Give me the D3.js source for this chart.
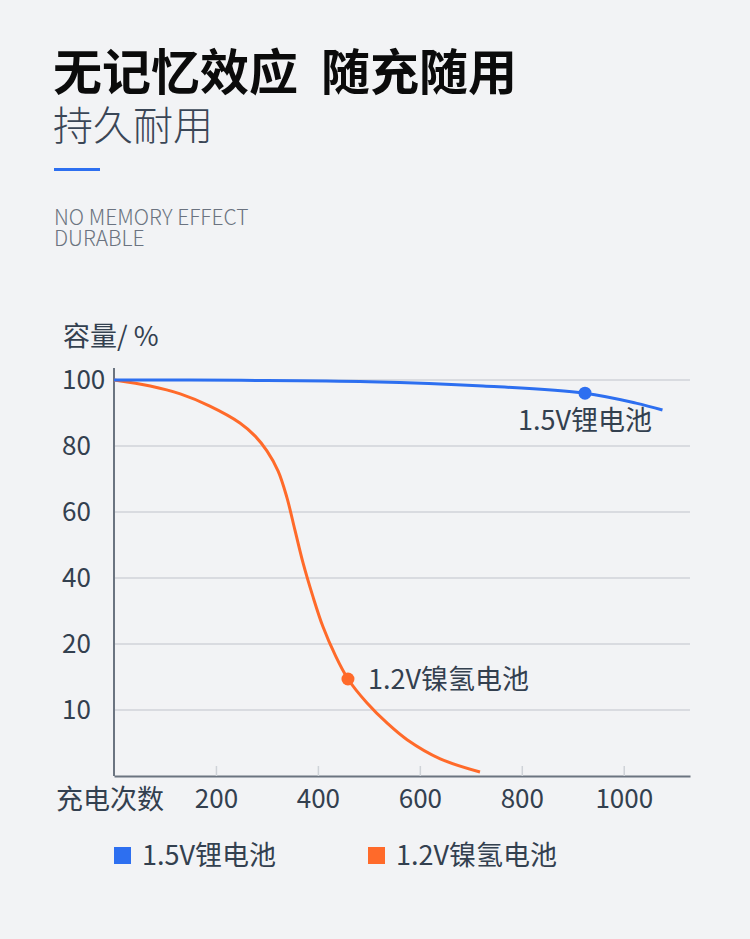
<!DOCTYPE html>
<html lang="zh-CN">
<head>
<meta charset="utf-8">
<title>无记忆效应 随充随用</title>
<script src="https://d3js.org/d3.v7.min.js"></script>
<style>
  html, body { margin: 0; padding: 0; background: #f2f3f5; }
  svg { display: block; font-family: "Noto Sans CJK SC", "Noto Sans", sans-serif; }
  .tick text { fill: #33404f; }
</style>
</head>
<body>
<svg id="chart"></svg>
<script>
// data
var xTicks = [200, 400, 600, 800, 1000];
var yTicks = [100, 80, 60, 40, 20, 10];

// 1.5V lithium
var liCycles   = [0, 250, 500, 724, 924, 1024, 1076];
var liCapacity = [100, 99.9, 99.5, 98.2, 96, 93, 90.9];
var liMark = [924, 96];

// 1.2V NiMH
var nimhCycles   = [0, 71, 130, 188, 247, 277, 300, 322, 339, 355, 371, 390, 410, 434, 459, 496, 536, 575, 640, 718];
var nimhCapacity = [100, 98.2, 95.8, 92.1, 87.0, 83.0, 78.5, 72.4, 64.5, 54.5, 44.5, 34.5, 25.2, 18.3, 14.7, 11.1, 8.0, 5.5, 2.6, 0.6];
var nimhMark = [459, 14.7];

var seriesNames = ["1.5V锂电池", "1.2V镍氢电池"];
var colors = ["#2d6ff0", "#ff6a2a"];

var width = 750, height = 939;
var textColor = "#33404f";

var svg = d3.select("#chart")
    .attr("width", width)
    .attr("height", height);

svg.append("rect").attr("width", width).attr("height", height).attr("fill", "#f2f3f5");

// header
svg.append("text")
    .attr("x", 53).attr("y", 90)
    .attr("font-size", 49).attr("font-weight", 700)
    .attr("fill", "#0b0b0b")
    .text("无记忆效应");
svg.append("text")
    .attr("x", 321).attr("y", 90)
    .attr("font-size", 49).attr("font-weight", 700)
    .attr("fill", "#0b0b0b")
    .text("随充随用");

svg.append("text")
    .attr("x", 53).attr("y", 140)
    .attr("font-size", 40).attr("font-weight", 300)
    .attr("fill", "#3a4656")
    .text("持久耐用");

svg.append("rect")
    .attr("x", 54).attr("y", 168)
    .attr("width", 46).attr("height", 3)
    .attr("fill", colors[0]);

svg.append("text")
    .attr("x", 54).attr("y", 225)
    .attr("font-size", 21).attr("font-weight", 300)
    .attr("fill", "#6b7380")
    .text("NO MEMORY EFFECT");

svg.append("text")
    .attr("x", 54).attr("y", 246)
    .attr("font-size", 21).attr("font-weight", 300)
    .attr("fill", "#6b7380")
    .text("DURABLE");

// scales
var left = 114, right = 690, bottom = 776, step = 66;

var x = d3.scaleLinear()
    .domain([0, 1130])
    .range([left, right]);

// tick labels are evenly spaced even though the values are not
var y = d3.scaleLinear()
    .domain([0, 10, 20, 40, 60, 80, 100])
    .range(d3.range(7).map(function(i) { return bottom - i * step; }));

// y title
svg.append("text")
    .attr("x", 63).attr("y", 346)
    .attr("font-size", 27)
    .attr("fill", textColor)
    .text("容量/ %");

// grid
svg.append("g")
  .selectAll("line")
  .data(yTicks)
  .join("line")
    .attr("x1", left).attr("x2", right)
    .attr("y1", function(d) { return y(d); })
    .attr("y2", function(d) { return y(d); })
    .attr("stroke", "#d9dbe0")
    .attr("stroke-width", 2);

// y axis
var yAxis = svg.append("g")
    .attr("transform", "translate(" + left + ",0)")
    .call(d3.axisLeft(y).tickValues(yTicks).tickSize(0));
yAxis.select(".domain").remove();
yAxis.selectAll(".tick text")
    .attr("x", -52)
    .attr("text-anchor", "start")
    .attr("font-size", 26)
    .attr("font-family", "Noto Sans CJK SC");

svg.append("line")
    .attr("x1", left).attr("x2", left)
    .attr("y1", 368).attr("y2", bottom)
    .attr("stroke", "#6b7480")
    .attr("stroke-width", 2);

// x axis
var xAxis = svg.append("g")
    .attr("transform", "translate(0," + bottom + ")")
    .call(d3.axisBottom(x).tickValues(xTicks).tickFormat(d3.format("d"))
      .tickSizeInner(-10).tickSizeOuter(0).tickPadding(14));
xAxis.select(".domain")
    .attr("stroke", "#6b7480")
    .attr("stroke-width", 2);
xAxis.selectAll(".tick line")
    .attr("stroke", "#cfd3d8")
    .attr("stroke-width", 1.5);
xAxis.selectAll(".tick text")
    .attr("font-size", 26)
    .attr("font-family", "Noto Sans CJK SC");

svg.append("text")
    .attr("x", 56).attr("y", 809)
    .attr("font-size", 27)
    .attr("fill", textColor)
    .text("充电次数");

// lines
var line = d3.line()
    .x(function(d) { return x(d[0]); })
    .y(function(d) { return y(d[1]); })
    .curve(d3.curveCatmullRom.alpha(0.5));

var liData = d3.zip(liCycles, liCapacity);
var nimhData = d3.zip(nimhCycles, nimhCapacity);

svg.append("path")
    .datum(nimhData)
    .attr("d", line)
    .attr("fill", "none")
    .attr("stroke", colors[1])
    .attr("stroke-width", 3);

svg.append("path")
    .datum(liData)
    .attr("d", line)
    .attr("fill", "none")
    .attr("stroke", colors[0])
    .attr("stroke-width", 3);

// markers + labels
svg.append("circle")
    .attr("cx", x(liMark[0])).attr("cy", y(liMark[1]))
    .attr("r", 6.5).attr("fill", colors[0]);
svg.append("text")
    .attr("x", x(liMark[0])).attr("y", y(liMark[1]) + 37)
    .attr("text-anchor", "middle")
    .attr("font-size", 27)
    .attr("fill", textColor)
    .text(seriesNames[0]);

svg.append("circle")
    .attr("cx", x(nimhMark[0])).attr("cy", y(nimhMark[1]))
    .attr("r", 6.5).attr("fill", colors[1]);
svg.append("text")
    .attr("x", x(nimhMark[0]) + 20).attr("y", y(nimhMark[1]) + 10)
    .attr("font-size", 27)
    .attr("fill", textColor)
    .text(seriesNames[1]);

// legend
var legend = svg.append("g")
  .selectAll("g")
  .data(seriesNames)
  .join("g")
    .attr("transform", function(d, i) { return "translate(" + (114 + i * 254) + ",847)"; });

legend.append("rect")
    .attr("width", 17).attr("height", 17)
    .attr("fill", function(d, i) { return colors[i]; });

legend.append("text")
    .attr("x", 28).attr("y", 18)
    .attr("font-size", 27)
    .attr("fill", textColor)
    .text(function(d) { return d; });
</script>
</body>
</html>
